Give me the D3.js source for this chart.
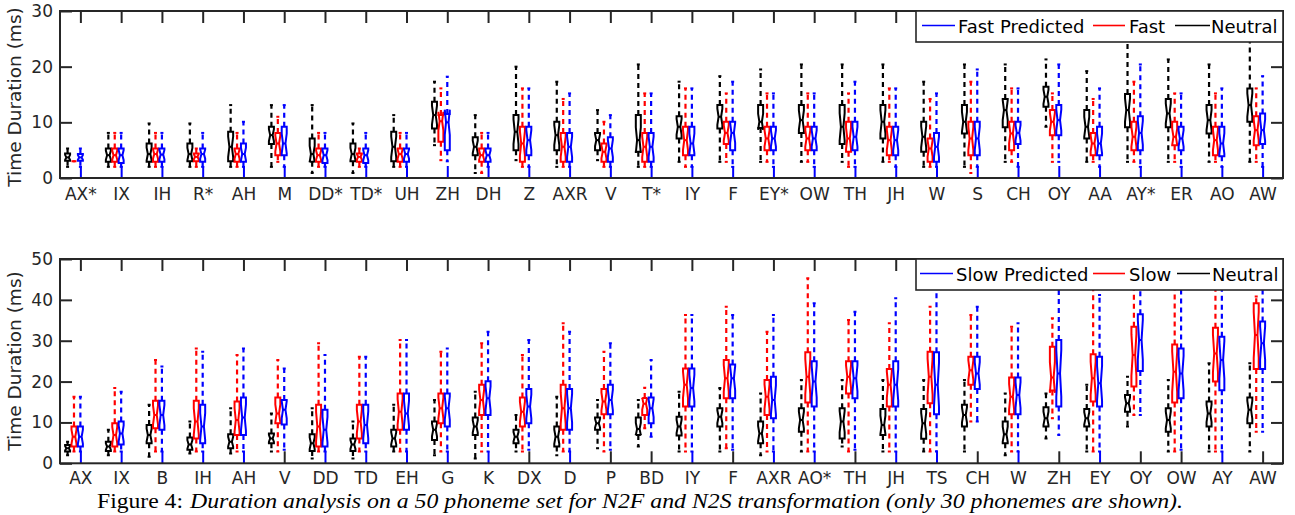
<!DOCTYPE html>
<html><head><meta charset="utf-8">
<script src="https://cdn.jsdelivr.net/npm/d3@7"></script>
<style>body{margin:0;background:#fff} svg{display:block}</style>
</head><body><svg id="c" width="1295" height="515"></svg>
<script>
// ---- DATA ----  each box: [lowerWhisker, q1, median, q3, upperWhisker]
const topCategories = ["AX*","IX","IH","R*","AH","M","DD*","TD*","UH","ZH","DH","Z","AXR","V","T*","IY","F","EY*","OW","TH","JH","W","S","CH","OY","AA","AY*","ER","AO","AW"];
const topNeutral = [
 [2.0,3.1,3.7,4.4,5.3],[2.0,2.9,4.1,5.3,8.1],[2.0,2.9,4.3,6.2,9.8],[2.0,3.0,4.3,6.2,9.8],[2.0,3.0,5.6,8.3,13.1],
 [2.0,6.1,7.7,9.2,13.1],[0.9,2.9,4.3,7.1,13.1],[0.9,3.0,4.3,6.2,9.8],[2.0,3.0,5.6,8.3,11.3],[5.9,8.9,11.3,13.7,17.3],
 [0.9,4.1,5.6,7.3,11.3],[3.2,5.0,8.3,11.3,20.0],[2.0,5.0,7.7,10.1,17.3],[3.2,5.0,6.8,8.1,12.2],[2.0,4.7,6.8,11.3,20.4],
 [2.9,7.1,9.2,11.1,17.3],[2.9,8.9,11.0,13.1,18.3],[2.9,9.0,10.1,13.1,19.5],[2.9,8.1,10.4,13.1,20.4],[2.9,6.1,9.2,13.1,20.4],
 [2.9,7.1,10.1,13.1,20.4],[2.0,4.7,7.4,10.1,17.3],[2.0,8.0,10.1,13.1,20.4],[2.9,9.1,12.2,14.2,20.4],[9.2,12.8,14.6,16.4,21.3],
 [2.9,7.1,9.2,12.2,19.2],[2.9,9.1,12.2,15.1,26.0],[2.9,9.1,11.6,14.2,21.3],[2.9,8.0,10.4,13.1,20.4],[2.9,10.1,13.1,16.1,26.0]
];
const topFast = [
 [3.0,3.0,3.0,3.0,3.0],[2.0,2.9,4.1,5.3,8.1],[2.0,2.9,4.3,5.3,8.1],[2.0,3.0,3.8,4.4,5.3],[2.0,2.9,4.3,5.3,8.1],
 [2.9,4.1,6.2,8.1,11.0],[2.0,2.9,4.1,5.3,8.1],[2.0,2.9,3.8,4.4,5.3],[2.0,2.9,4.3,5.3,8.1],[3.2,6.5,10.2,11.3,16.1],
 [0.9,2.9,4.1,5.3,8.1],[2.0,2.9,6.2,9.2,16.1],[2.0,2.9,5.6,8.1,14.2],[2.0,2.9,4.7,6.2,10.1],[2.0,2.9,5.6,8.1,15.2],
 [2.0,4.1,6.8,9.2,16.1],[2.9,6.1,8.1,10.1,15.2],[2.9,5.0,7.1,9.2,15.2],[2.9,5.0,7.1,9.2,15.2],[2.0,4.7,7.1,10.1,15.2],
 [2.9,4.1,6.8,9.2,16.1],[2.0,2.9,5.3,7.1,14.2],[0.9,4.1,7.1,10.1,17.3],[2.9,5.0,8.0,10.1,16.1],[2.9,7.7,10.1,12.2,15.2],
 [2.9,4.1,6.2,8.1,14.2],[2.9,5.0,7.4,10.1,17.3],[2.9,5.9,7.4,10.1,15.2],[2.9,4.1,6.8,9.2,15.2],[2.9,5.9,8.6,11.1,16.1]
];
const topFastPredicted = [
 [2.0,3.1,3.7,4.3,5.3],[2.0,2.7,4.1,5.3,8.1],[2.0,2.9,4.2,5.3,8.1],[2.0,2.9,4.3,5.3,8.1],[2.0,2.9,4.3,6.2,10.1],
 [2.0,4.1,6.2,9.2,13.1],[2.0,2.7,4.1,5.3,8.1],[2.0,2.7,4.1,5.3,8.1],[2.0,2.9,4.3,5.3,8.1],[3.0,5.0,10.0,11.5,18.2],
 [2.0,2.9,4.1,5.3,8.1],[2.0,4.1,6.8,9.2,16.1],[2.0,2.9,5.6,8.1,15.2],[2.0,2.9,5.3,7.3,11.3],[2.0,2.9,5.6,8.1,15.2],
 [2.0,4.1,6.2,9.2,16.1],[2.0,5.0,8.1,10.1,17.3],[2.0,5.0,7.1,9.2,15.2],[2.0,5.0,7.1,9.2,15.2],[2.0,5.0,7.4,10.1,17.3],
 [2.0,4.1,6.8,9.2,16.1],[2.0,2.9,5.6,8.1,15.2],[2.0,4.1,7.1,10.1,19.5],[2.0,6.1,8.1,10.1,16.1],[2.9,7.7,10.4,13.1,20.4],
 [2.0,4.1,6.2,9.2,16.1],[2.0,5.0,8.1,11.1,20.4],[2.0,5.0,7.1,9.2,15.2],[2.0,3.9,6.2,9.2,16.1],[2.0,6.1,8.6,11.6,18.3]
];
const bottomCategories = ["AX","IX","B","IH","AH","V","DD","TD","EH","G","K","DX","D","P","BD","IY","F","AXR","AO*","TH","JH","TS","CH","W","ZH","EY","OY","OW","AY","AW"];
const bottomNeutral = [
 [2.0,2.9,3.7,4.5,5.3],[2.0,3.0,4.1,5.3,8.2],[1.6,4.9,6.9,9.4,14.3],[2.4,3.3,4.6,6.3,10.2],[2.4,3.7,5.3,7.1,13.5],
 [2.9,4.9,6.1,7.3,12.2],[1.2,3.0,4.9,7.1,13.5],[1.2,3.0,4.6,6.1,10.2],[2.9,4.1,6.1,8.2,14.3],[2.0,5.7,8.2,10.2,15.5],
 [1.2,6.9,9.0,11.2,17.5],[2.9,4.9,6.5,8.2,11.8],[2.0,4.1,6.5,9.0,16.3],[3.7,8.2,9.8,11.2,15.5],[4.1,6.9,8.4,11.2,15.5],
 [2.9,6.8,9.0,11.4,17.5],[2.9,9.0,11.4,13.5,18.4],[2.0,4.9,7.3,10.2,17.1],[2.9,7.7,10.6,13.5,20.4],[4.1,6.1,10.2,13.5,20.4],
 [2.9,6.9,9.4,13.3,20.4],[2.9,6.0,9.8,13.3,20.4],[2.9,9.0,11.8,14.3,20.4],[2.0,4.9,7.1,10.2,17.1],[6.1,9.0,11.0,13.7,17.1],
 [2.9,9.0,11.0,13.3,19.2],[9.0,12.6,14.7,16.7,21.2],[2.9,7.7,10.6,13.5,20.4],[2.9,9.0,12.2,15.1,24.5],[2.9,9.8,13.1,16.1,24.5]
];
const bottomSlow = [
 [2.9,4.1,6.5,9.0,16.3],[2.9,4.1,6.9,9.8,18.4],[2.9,8.6,11.8,15.3,25.3],[2.9,6.1,10.2,15.3,28.1],[2.9,6.9,10.6,15.1,26.5],
 [2.9,9.8,12.2,16.1,25.3],[2.9,4.1,9.0,14.3,29.4],[2.9,6.1,10.2,14.3,26.1],[2.9,8.2,12.6,17.1,30.2],[2.9,9.8,13.5,17.1,27.3],
 [2.9,11.8,15.5,19.2,29.4],[2.9,9.0,12.6,16.1,26.5],[2.9,8.2,13.5,19.2,34.3],[2.9,12.0,15.1,18.2,27.3],[8.6,11.8,14.6,16.0,18.5],
 [2.9,13.9,19.2,23.2,36.3],[3.7,15.9,20.8,25.3,38.3],[2.9,11.8,16.3,20.4,32.2],[2.9,14.9,21.2,27.2,45.3],[2.9,17.1,21.2,25.0,35.1],
 [2.9,13.9,19.2,23.1,34.3],[2.9,14.7,21.2,27.3,38.3],[10.2,19.2,22.8,26.1,36.3],[2.9,12.0,16.3,21.0,33.4],[11.0,17.8,21.0,28.5,35.5],
 [2.9,15.1,20.8,26.7,45.0],[11.8,18.8,26.5,33.4,45.0],[2.9,14.9,22.4,29.1,45.0],[2.9,20.0,26.9,33.2,45.0],[7.7,23.1,31.4,39.2,40.8]
];
const bottomSlowPredicted = [
 [2.9,4.1,6.5,9.0,16.3],[2.9,4.6,7.3,10.2,17.5],[2.9,8.2,11.8,15.3,23.7],[2.9,4.9,9.0,14.3,27.3],[2.9,6.9,11.2,16.1,28.1],
 [3.3,9.5,13.1,15.5,23.2],[2.9,4.1,8.2,13.1,26.5],[2.9,4.9,9.4,14.3,26.1],[2.9,8.2,12.2,17.1,30.2],[2.9,9.0,13.5,17.1,28.1],
 [2.9,11.8,15.9,20.1,32.2],[3.3,9.8,13.9,18.2,30.2],[2.9,8.2,13.5,18.2,32.2],[3.3,12.0,15.5,19.2,29.4],[6.5,9.8,13.5,16.1,25.3],
 [2.9,13.9,18.4,23.2,36.3],[3.3,15.9,20.8,24.2,36.3],[2.9,11.0,15.5,21.2,36.3],[2.9,13.9,20.0,25.0,39.2],[3.3,15.9,20.8,25.0,37.1],
 [2.9,13.9,19.2,25.0,40.4],[2.9,12.0,19.2,27.2,45.0],[10.2,18.2,22.0,26.1,38.3],[2.9,12.0,16.7,21.0,34.3],[6.9,13.9,22.0,30.2,45.0],
 [2.9,13.9,19.6,26.1,41.2],[11.8,22.6,30.2,36.5,45.0],[3.3,15.9,22.0,28.1,45.0],[2.9,17.9,25.3,31.0,45.0],[7.7,23.1,29.4,34.7,45.0]
];
const topYTicks = [0,10,20,30];
const bottomYTicks = [0,10,20,30,40,50];
const topLegend = ["Fast Predicted","Fast","Neutral"];
const bottomLegend = ["Slow Predicted","Slow","Neutral"];
const yTitle = "Time Duration (ms)";
const captionLead = "Figure 4:";
const captionText = "Duration analysis on a 50 phoneme set for N2F and N2S transformation (only 30 phonemes are shown).";

// ---- DRAWING ----
const svg = d3.select('#c');
const frameColor = '#262626';
const seriesColors = ['#000000','#ff0000','#0000ff'];
const offsets = [-12.8, -6.4, 0];
const boxW = 5;
const FONT = 'DejaVu Sans';
const x = d3.scaleLinear().domain([0.5, 30.5]).range([60, 1283]);

function drawPanel(cfg) {
  const {y, cats, series, yTicks, legend, titleY, leg, labelPad} = cfg;
  const [yb, yt] = y.range();
  const g = svg.append('g');
  const clipId = 'clip' + Math.round(yt);
  svg.append('clipPath').attr('id', clipId).append('rect')
     .attr('x', 60).attr('y', yt).attr('width', 1223).attr('height', yb - yt);

  const idx = d3.range(1, 31);
  const gx = g.append('g').attr('transform', `translate(0,${yb})`)
    .call(d3.axisBottom(x).tickValues(idx).tickFormat(i => cats[i-1]).tickSizeInner(-12).tickSizeOuter(0).tickPadding(labelPad));
  gx.select('.domain').remove();
  gx.attr('font-family', FONT).attr('font-size', 17);
  gx.selectAll('text').attr('fill', frameColor);
  gx.selectAll('line').attr('stroke-width', 2)
    .attr('stroke', i => series[2][i-1][0] < 3.1 ? seriesColors[2] : frameColor);
  const gt = g.append('g').attr('transform', `translate(0,${yt})`)
    .call(d3.axisTop(x).tickValues(idx).tickFormat('').tickSizeInner(-12).tickSizeOuter(0));
  gt.select('.domain').remove();
  gt.selectAll('line').attr('stroke', frameColor).attr('stroke-width', 2);
  const gl = g.append('g').attr('transform', 'translate(60,0)')
    .call(d3.axisLeft(y).tickValues(yTicks).tickSizeInner(-12).tickSizeOuter(0).tickPadding(7));
  gl.select('.domain').remove();
  gl.attr('font-family', FONT).attr('font-size', 17);
  gl.selectAll('text').attr('fill', frameColor);
  gl.selectAll('line').attr('stroke', frameColor).attr('stroke-width', 2);
  const gr = g.append('g').attr('transform', 'translate(1283,0)')
    .call(d3.axisRight(y).tickValues(yTicks).tickFormat('').tickSizeInner(-12).tickSizeOuter(0));
  gr.select('.domain').remove();
  gr.selectAll('line').attr('stroke', frameColor).attr('stroke-width', 2);

  const plot = g.append('g').attr('clip-path', `url(#${clipId})`);
  series.forEach((data, s) => {
    const col = seriesColors[s];
    const sg = plot.append('g');
    data.forEach((b, i) => {
      const [lo, q1, med, q3, hi] = b;
      const cx = x(i + 1) + offsets[s];
      const hw = boxW / 2, nw = boxW / 4;
      const notch = 0.35 * (q3 - q1);
      if (hi > q3) {
        sg.append('line').attr('x1', cx).attr('x2', cx).attr('y1', y(q3)).attr('y2', y(hi))
          .attr('stroke', col).attr('stroke-width', 2.2).attr('stroke-dasharray', '5,4');
        sg.append('line').attr('x1', cx - 1.5).attr('x2', cx + 1.5).attr('y1', y(hi)).attr('y2', y(hi))
          .attr('stroke', col).attr('stroke-width', 2);
      }
      if (lo < q1) {
        sg.append('line').attr('x1', cx).attr('x2', cx).attr('y1', y(q1)).attr('y2', y(lo))
          .attr('stroke', col).attr('stroke-width', 2.2).attr('stroke-dasharray', '5,4');
        sg.append('line').attr('x1', cx - 1.5).attr('x2', cx + 1.5).attr('y1', y(lo)).attr('y2', y(lo))
          .attr('stroke', col).attr('stroke-width', 2);
      }
      const pts = [
        [cx - hw, y(q1)], [cx - hw, y(med - notch)], [cx - nw, y(med)], [cx - hw, y(med + notch)], [cx - hw, y(q3)],
        [cx + hw, y(q3)], [cx + hw, y(med + notch)], [cx + nw, y(med)], [cx + hw, y(med - notch)], [cx + hw, y(q1)]
      ];
      sg.append('path').attr('d', d3.line()(pts) + 'Z')
        .attr('fill', 'none').attr('stroke', col).attr('stroke-width', 2).attr('stroke-linejoin', 'miter');
      sg.append('line').attr('x1', cx - nw).attr('x2', cx + nw).attr('y1', y(med)).attr('y2', y(med))
        .attr('stroke', col).attr('stroke-width', 2);
    });
  });

  g.append('rect').attr('x', 60).attr('y', yt).attr('width', 1223).attr('height', yb - yt)
    .attr('fill', 'none').attr('stroke', frameColor).attr('stroke-width', 2);

  g.append('text').attr('transform', `translate(21,${titleY}) rotate(-90)`)
    .attr('text-anchor', 'middle').attr('font-family', FONT).attr('font-size', 18.5)
    .attr('fill', frameColor).text(yTitle);

  const lg = g.append('g');
  lg.append('rect').attr('x', 916).attr('y', yt).attr('width', 367).attr('height', 31)
    .attr('fill', '#fff').attr('stroke', frameColor).attr('stroke-width', 1.6);
  const legendColors = [seriesColors[2], seriesColors[1], seriesColors[0]];
  legend.forEach((lab, k) => {
    lg.append('line').attr('x1', leg[k][0]).attr('x2', leg[k][1]).attr('y1', yt + 14.5).attr('y2', yt + 14.5)
      .attr('stroke', legendColors[k]).attr('stroke-width', 1.6);
    lg.append('text').attr('x', leg[k][2]).attr('y', yt + 21.5).attr('font-family', FONT).attr('font-size', 18)
      .attr('fill', '#000').text(lab);
  });
}

drawPanel({
  y: d3.scaleLinear().domain([0, 30]).range([178, 11]),
  cats: topCategories, series: [topNeutral, topFast, topFastPredicted],
  yTicks: topYTicks, legend: topLegend, titleY: 97, labelPad: 10,
  leg: [[922, 955, 958], [1093, 1125, 1129], [1175, 1210, 1211]]
});
drawPanel({
  y: d3.scaleLinear().domain([0, 50]).range([463.3, 259]),
  cats: bottomCategories, series: [bottomNeutral, bottomSlow, bottomSlowPredicted],
  yTicks: bottomYTicks, legend: bottomLegend, titleY: 361, labelPad: 9,
  leg: [[920, 953, 956], [1093, 1125, 1129], [1177, 1210, 1212]]
});

svg.append('text').attr('x', 97).attr('y', 507.5).attr('font-family', 'Liberation Serif').attr('font-size', 22)
  .attr('textLength', 86).attr('lengthAdjust', 'spacingAndGlyphs').attr('fill', '#000').text(captionLead);
svg.append('text').attr('x', 190).attr('y', 507.5).attr('font-family', 'Liberation Serif').attr('font-size', 22)
  .attr('font-style', 'italic').attr('textLength', 993).attr('lengthAdjust', 'spacingAndGlyphs')
  .attr('fill', '#000').text(captionText);
</script></body></html>
